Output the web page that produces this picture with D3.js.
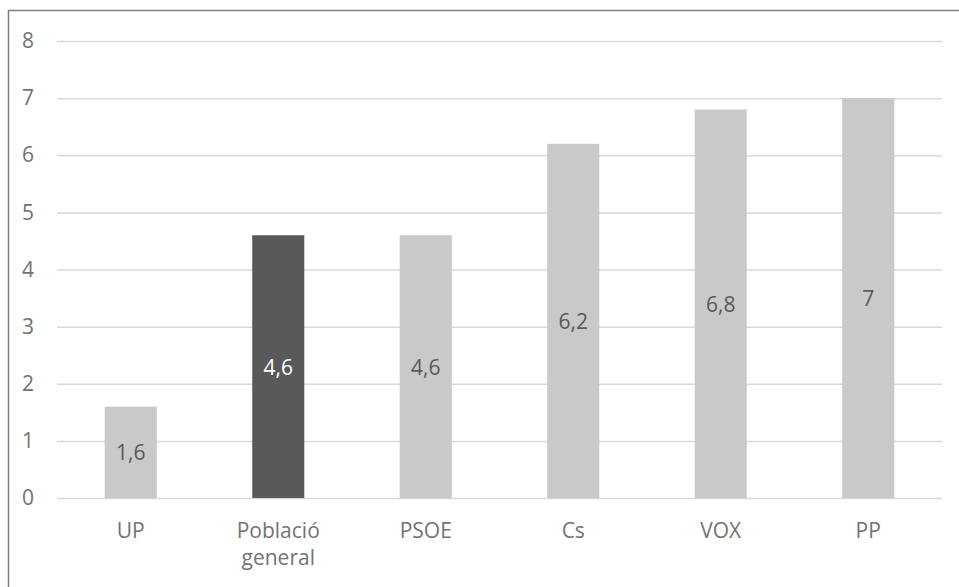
<!DOCTYPE html>
<html>
<head>
<meta charset="utf-8">
<script src="https://cdn.jsdelivr.net/npm/d3@7"></script>
<style>
  html, body { margin: 0; padding: 0; background: #fff; }
  svg { display: block; }
  text { font-family: "Open Sans", sans-serif; }
</style>
</head>
<body>
<svg id="chart" width="959" height="587"></svg>
<script>
const categories = [["UP"], ["Població", "general"], ["PSOE"], ["Cs"], ["VOX"], ["PP"]];
const categoryKeys = ["UP", "Població general", "PSOE", "Cs", "VOX", "PP"];
const values = [1.6, 4.6, 4.6, 6.2, 6.8, 7];
const valueLabels = ["1,6", "4,6", "4,6", "6,2", "6,8", "7"];
const highlighted = ["Població general"];
const yTicks = [0, 1, 2, 3, 4, 5, 6, 7, 8];

const svg = d3.select("#chart");
const W = 959, H = 587;
const plot = { left: 57, right: 942, top: 41, bottom: 498 };

// frame (left and top edges)
svg.append("path")
  .attr("d", `M8.5,${H} L8.5,10.5 L${W},10.5`)
  .attr("fill", "none")
  .attr("stroke", "#7f7f7f")
  .attr("stroke-width", 1.5);

const x = d3.scaleBand()
  .domain(categoryKeys)
  .range([plot.left, plot.right])
  .paddingInner(0.647)
  .paddingOuter(0.3235);

const y = d3.scaleLinear().domain([0, 8]).range([plot.bottom, plot.top]);

// y axis with gridlines
const yAxis = svg.append("g")
  .attr("transform", `translate(${plot.left},0)`)
  .call(d3.axisLeft(y).tickValues(yTicks).tickSize(-(plot.right - plot.left)).tickPadding(23).tickFormat(d3.format("d")));
yAxis.select(".domain").remove();
yAxis.selectAll(".tick line").attr("stroke", "#d9d9d9").attr("stroke-width", 1.5);
yAxis.selectAll(".tick text")
  .attr("fill", "#737373")
  .style("font-size", "21px");

// bars
const data = categoryKeys.map((k, i) => ({ key: k, lines: categories[i], value: values[i], label: valueLabels[i] }));

svg.append("g").selectAll("rect").data(data).join("rect")
  .attr("x", d => x(d.key))
  .attr("width", x.bandwidth())
  .attr("y", d => y(d.value))
  .attr("height", d => y(0) - y(d.value))
  .attr("fill", d => highlighted.includes(d.key) ? "#595959" : "#c9c9c9");

// value labels
svg.append("g").selectAll("text").data(data).join("text")
  .attr("x", d => x(d.key) + x.bandwidth() / 2)
  .attr("y", d => (y(d.value) + y(0)) / 2)
  .attr("text-anchor", "middle")
  .attr("dominant-baseline", "central")
  .attr("fill", d => highlighted.includes(d.key) ? "#ffffff" : "#595959")
  .style("font-size", "21px")
  .text(d => d.label);

// category labels
const catG = svg.append("g").selectAll("text").data(data).join("text")
  .attr("x", d => x(d.key) + x.bandwidth() / 2)
  .attr("y", 538)
  .attr("text-anchor", "middle")
  .attr("fill", "#737373")
  .style("font-size", "21px");
catG.selectAll("tspan").data(d => d.lines.map(l => ({ l, cx: x(d.key) + x.bandwidth() / 2 }))).join("tspan")
  .attr("x", t => t.cx)
  .attr("dy", (t, i) => i === 0 ? 0 : 27)
  .text(t => t.l);
</script>
</body>
</html>
